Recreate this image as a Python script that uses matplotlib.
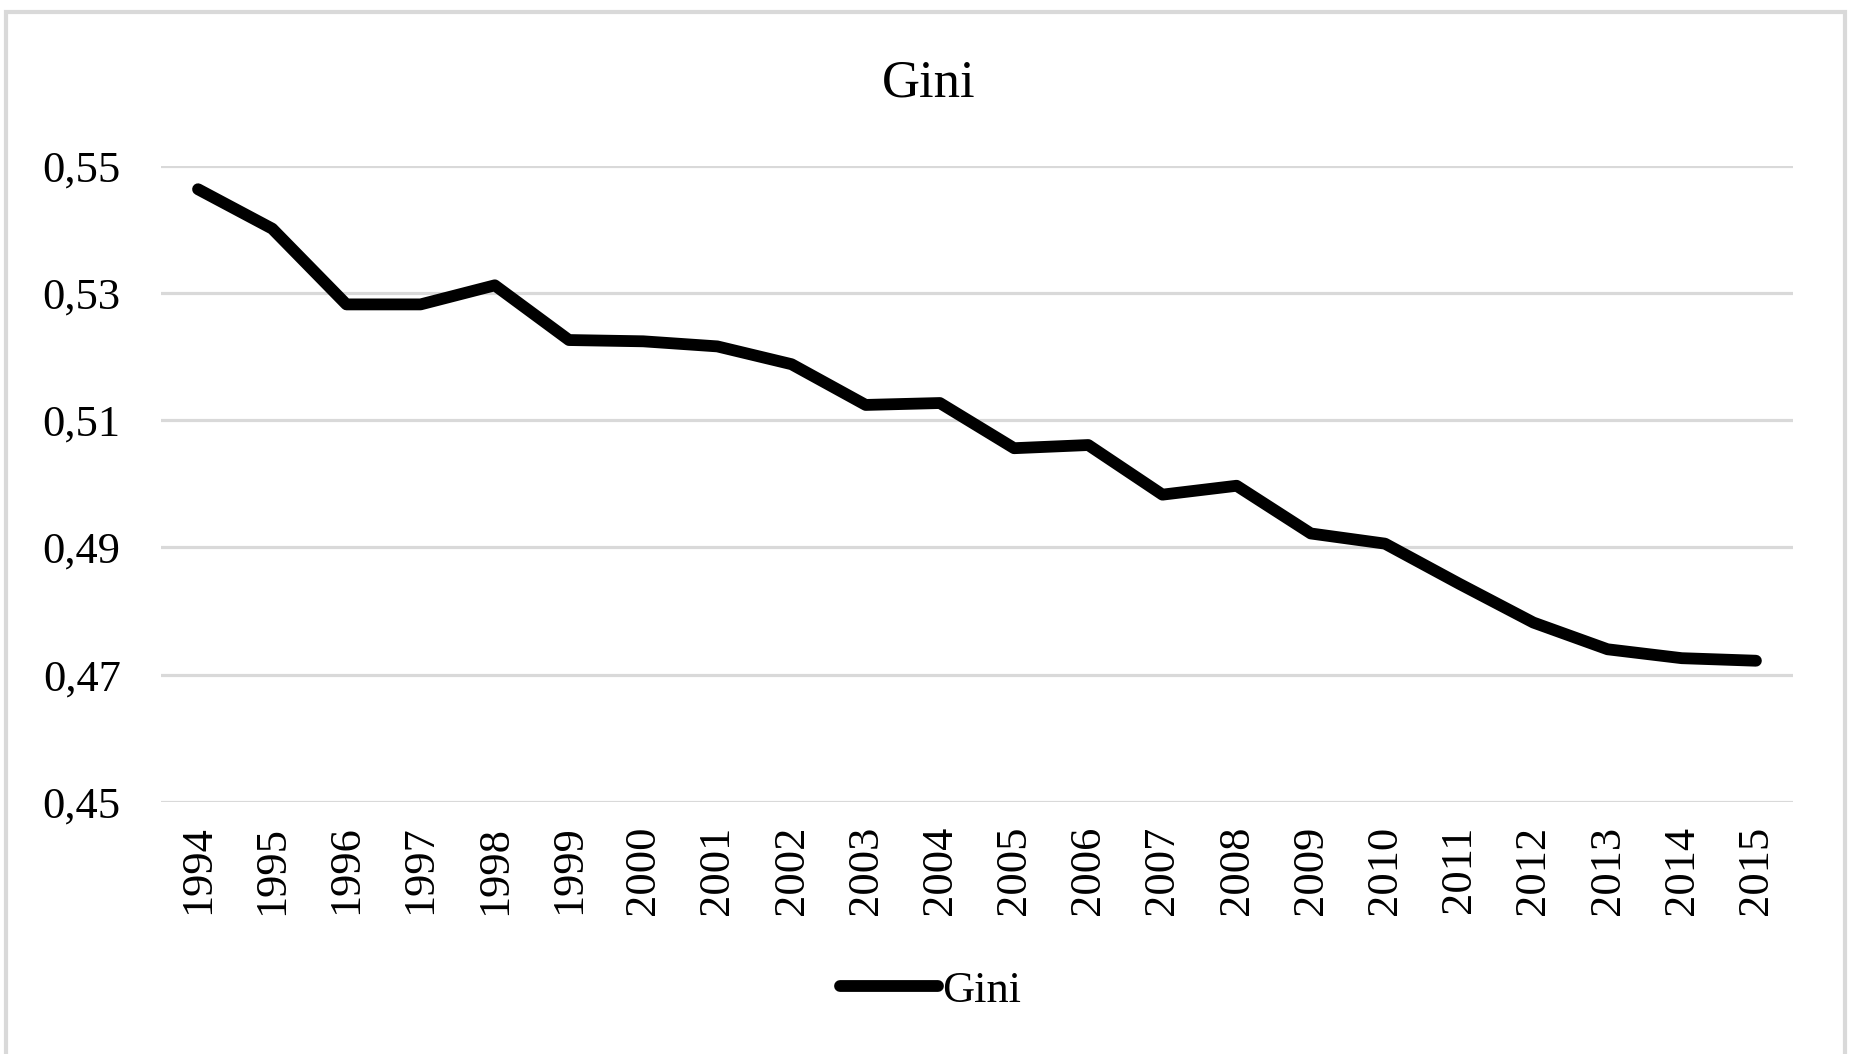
#!/usr/bin/env python3
import matplotlib

matplotlib.use("Agg")
import matplotlib.pyplot as plt
import numpy as np
from matplotlib.patches import Rectangle
from matplotlib.ticker import FuncFormatter


YEARS = list(range(1994, 2016))
GINI = [
    0.5463, 0.5401, 0.5282, 0.5282, 0.5312, 0.5226, 0.5224, 0.5216,
    0.5188, 0.5124, 0.5127, 0.5056, 0.5061, 0.4983, 0.4997, 0.4922,
    0.4906, 0.4843, 0.4782, 0.4740, 0.4726, 0.4722,
]
Y_TICKS = [0.45, 0.47, 0.49, 0.51, 0.53, 0.55]
SERIES_LABEL = "Gini"
TITLE = "Gini"

GRID_COLOR = "#D9D9D9"
FONT = "Liberation Serif"


def comma_decimal(value, _pos):
    return f"{value:.2f}".replace(".", ",")


def main() -> None:
    plt.rcParams.update({"font.family": FONT, "font.size": 32})

    fig = plt.figure(figsize=(18.5, 10.54), dpi=100)
    ax = fig.add_axes([0.0870, 0.2391, 0.8822, 0.6037])

    x = np.arange(len(YEARS))
    ax.plot(
        x, GINI, color="black", linewidth=8.5,
        solid_capstyle="round", solid_joinstyle="round",
        label=SERIES_LABEL, zorder=3,
    )

    # category axis: points sit in the middle of each slot
    ax.set_xlim(-0.5, len(YEARS) - 0.5)
    ax.set_xticks(x)
    ax.set_xticklabels([str(y) for y in YEARS], rotation=90)
    ax.set_ylim(Y_TICKS[0], Y_TICKS[-1])
    ax.set_yticks(Y_TICKS)
    ax.yaxis.set_major_formatter(FuncFormatter(comma_decimal))

    ax.grid(True, axis="y", color=GRID_COLOR, linewidth=2.3)
    ax.set_axisbelow(True)
    for side in ("top", "right", "bottom", "left"):
        ax.spines[side].set_visible(False)
    ax.tick_params(axis="x", length=0, pad=17, labelsize=32)
    ax.tick_params(axis="y", length=0, pad=29, labelsize=32)

    fig.text(0.502, 0.908, TITLE, ha="center", va="baseline", fontsize=38)

    fig.legend(
        loc="center", bbox_to_anchor=(0.503, 0.06), frameon=False,
        handlelength=2.2, handletextpad=0.1, fontsize=32,
    )

    # chart area border
    fig.patches.append(Rectangle(
        (6 / 1850, -0.05), (1845 - 6) / 1850, 1.05 - 12 / 1054,
        transform=fig.transFigure, fill=False,
        edgecolor=GRID_COLOR, linewidth=3, zorder=0,
    ))

    fig.savefig("out.png", dpi=100, facecolor="white")
    plt.close(fig)


if __name__ == "__main__":
    main()
